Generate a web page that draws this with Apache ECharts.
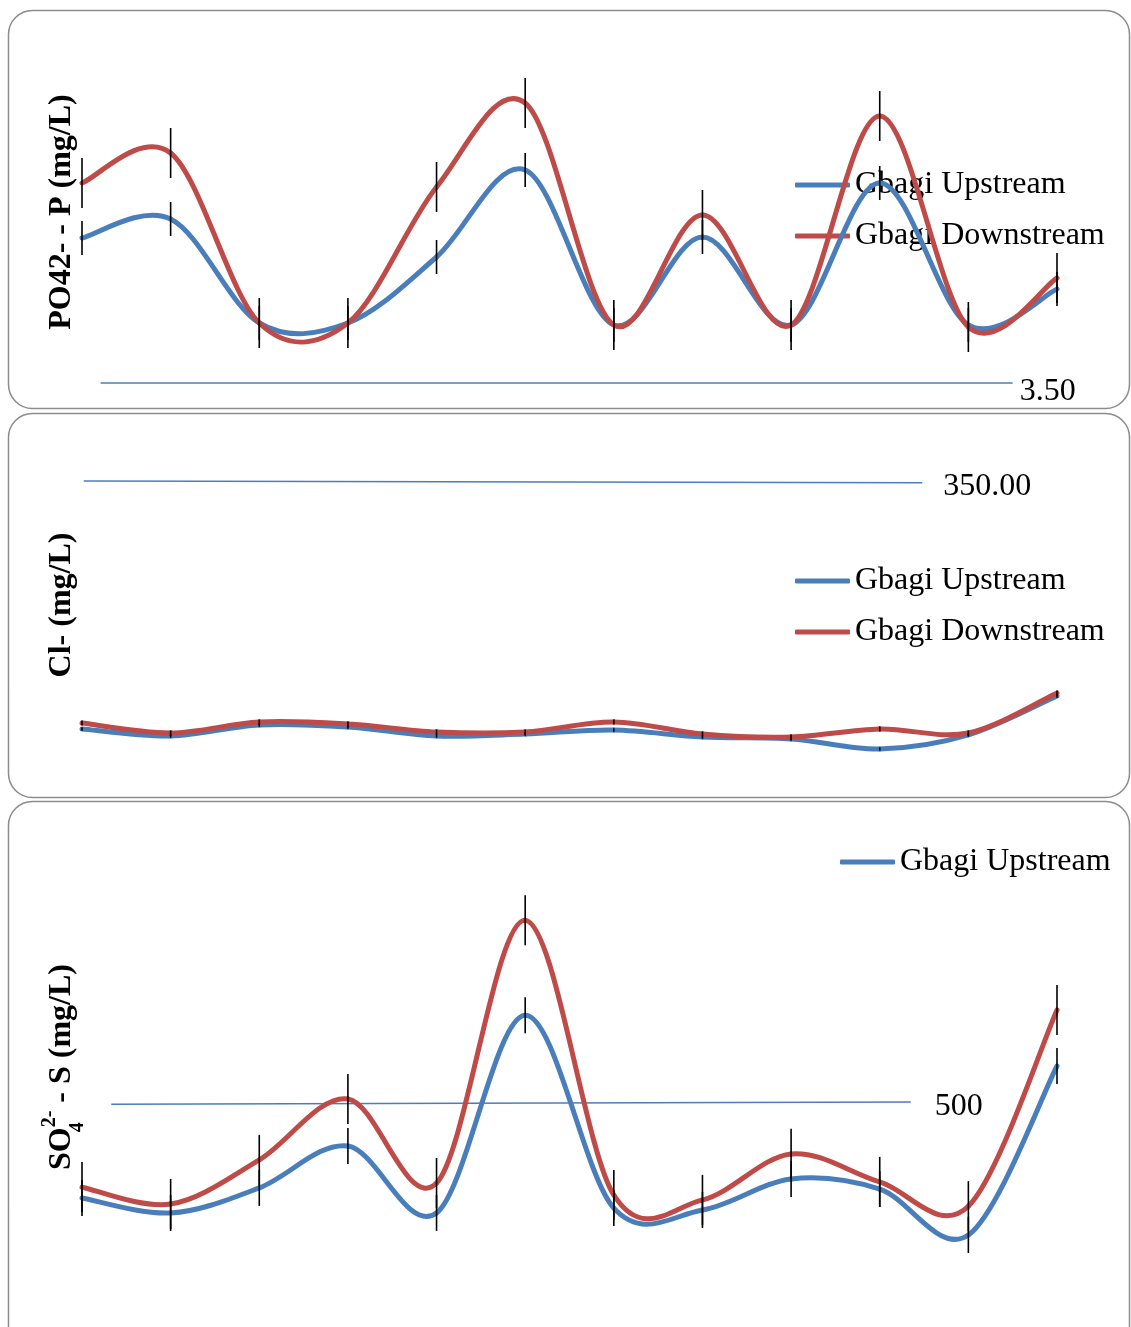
<!DOCTYPE html>
<html><head><meta charset="utf-8">
<script src="https://cdn.jsdelivr.net/npm/echarts@6/dist/echarts.min.js"></script>
<style>html,body{margin:0;padding:0;background:#fff}#c{width:1131px;height:1327px}</style>
</head><body><div id="c"></div>
<script>
// ---- data ----
const stations = ['1','2','3','4','5','6','7','8','9','10','11','12'];
const seriesNames = ['Gbagi Upstream', 'Gbagi Downstream'];

const po4Up      = [4.95, 5.14, 4.10, 4.10, 4.76, 5.63, 4.08, 4.96, 4.08, 5.50, 4.08, 4.44];
const po4Down    = [5.50, 5.80, 4.10, 4.10, 5.46, 6.30, 4.08, 5.18, 4.08, 6.17, 4.06, 4.55];
const po4UpErr   = [0.17, 0.17, 0.17, 0.17, 0.17, 0.17, 0.17, 0.17, 0.17, 0.17, 0.17, 0.17];
const po4DownErr = [0.25, 0.25, 0.25, 0.25, 0.25, 0.25, 0.25, 0.25, 0.25, 0.25, 0.25, 0.25];
const po4RefX = [0.21, 10.5];
const po4RefY = [3.5, 3.5];
const po4RefLabel = '3.50';

const clUp      = [59.9, 51.7, 64.6, 62.2, 51.7, 54.0, 58.7, 50.5, 48.2, 36.4, 52.9, 98.7];
const clDown    = [66.9, 55.2, 68.1, 65.8, 56.4, 56.4, 68.1, 54.0, 50.5, 59.9, 55.2, 102.2];
const clUpErr   = [2, 2, 2, 2, 2, 2, 2, 2, 2, 2, 2, 2];
const clDownErr = [3, 3, 3, 3, 3, 3, 3, 3, 3, 3, 3, 3];
const clRefX = [0.02, 9.48];
const clRefY = [351, 349];
const clRefLabel = '350.00';

const so4Up      = [246, 206, 273, 385, 206, 735, 219, 214, 297, 270, 147, 599];
const so4Down    = [275, 230, 348, 511, 286, 989, 254, 241, 364, 289, 224, 749];
const so4UpErr   = [48, 48, 48, 48, 48, 48, 48, 48, 48, 48, 48, 48];
const so4DownErr = [67, 67, 67, 67, 67, 67, 67, 67, 67, 67, 67, 67];
const so4RefX = [0.33, 9.35];
const so4RefY = [497, 503];
const so4RefLabel = '500';

const yTitles = ['PO42- - P (mg/L)', 'Cl- (mg/L)', 'SO{sub|4}{sup|2-} - S (mg/L)'];

// ---- styling ----
const BLUE = '#4a7ebb', RED = '#be4b48';
const FONT = 'Liberation Serif, Times New Roman, serif';
const TENSION = 1 / 6;

const grids = [
  {left: 82, right: 74, top: 33, height: 370},
  {left: 82, right: 74, top: 430, height: 350},
  {left: 82, right: 74, top: 820, height: 470}
];
const yRanges = [[3.3, 7.0], [0, 411], [0, 1257]];
const titlePads = [[0, 0, 0, 12], [0, 0, 0, 0], [0, 24, 0, 0]];

// smooth line through the data points (Catmull-Rom style, as in the original spreadsheet chart)
function curveSeries(gi, name, vals, color) {
  const n = vals.length;
  return {
    type: 'custom', name: name, xAxisIndex: gi, yAxisIndex: gi, silent: true, z: 3,
    itemStyle: {color: color},
    data: vals.map((v, i) => [i, v]),
    encode: {x: 0, y: 1},
    renderItem: function (params, api) {
      const i = params.dataIndex;
      if (i >= n - 1) return null;
      const P = k => { const j = Math.min(Math.max(k, 0), n - 1); return api.coord([j, vals[j]]); };
      const p0 = P(i - 1), p1 = P(i), p2 = P(i + 1), p3 = P(i + 2);
      return {
        type: 'bezierCurve',
        shape: {
          x1: p1[0], y1: p1[1], x2: p2[0], y2: p2[1],
          cpx1: p1[0] + (p2[0] - p0[0]) * TENSION, cpy1: p1[1] + (p2[1] - p0[1]) * TENSION,
          cpx2: p2[0] - (p3[0] - p1[0]) * TENSION, cpy2: p2[1] - (p3[1] - p1[1]) * TENSION
        },
        style: {stroke: color, lineWidth: 5, fill: null, lineCap: 'round'}
      };
    }
  };
}
function errSeries(gi, vals, errs) {
  return {
    type: 'custom', xAxisIndex: gi, yAxisIndex: gi, silent: true, z: 6,
    data: vals.map((v, i) => [i, v - errs[i], v + errs[i]]),
    encode: {x: 0, y: [1, 2]},
    renderItem: function (params, api) {
      const p0 = api.coord([api.value(0), api.value(1)]);
      const p1 = api.coord([api.value(0), api.value(2)]);
      return {type: 'line', shape: {x1: p0[0], y1: p0[1], x2: p1[0], y2: p1[1]},
        style: {stroke: '#000', lineWidth: 1.6}};
    }
  };
}
function refSeries(gi, xs, ys, text, dist, dy) {
  return {
    type: 'line', xAxisIndex: gi, yAxisIndex: gi, silent: true, z: 2,
    showSymbol: false, symbol: 'none',
    lineStyle: {color: BLUE, width: 1.5},
    data: xs.map((x, i) => [x, ys[i]]),
    endLabel: {show: true, formatter: () => text, distance: dist, offset: [0, dy],
      fontFamily: FONT, fontSize: 32, color: '#000'}
  };
}

const xAxes = grids.map((g, i) => ({gridIndex: i, type: 'value', min: 0, max: 11, show: false}));
const yAxes = grids.map((g, i) => ({
  gridIndex: i, type: 'value', min: yRanges[i][0], max: yRanges[i][1],
  axisLine: {show: false}, axisTick: {show: false}, axisLabel: {show: false}, splitLine: {show: false},
  name: yTitles[i], nameLocation: 'middle', nameRotate: 90, nameGap: 4,
  nameTextStyle: {fontFamily: FONT, fontSize: 32, fontWeight: 'bold', color: '#000', padding: titlePads[i],
    rich: {
      sub: {fontFamily: FONT, fontSize: 20, fontWeight: 'bold', verticalAlign: 'bottom', padding: [0, 0, -10, 0], width: 0.01},
      sup: {fontFamily: FONT, fontSize: 20, fontWeight: 'bold', verticalAlign: 'top', padding: [-6, 0, 0, 0]}
    }}
}));

const legendBase = {
  orient: 'vertical', icon: 'roundRect', itemWidth: 55, itemHeight: 5, itemGap: 15, z: 1,
  padding: 0, selectedMode: false,
  textStyle: {fontFamily: FONT, fontSize: 32, color: '#000', lineHeight: 36}
};

const panels = [
  {x: 8.5, y: 10.5, w: 1121, h: 398},
  {x: 8.5, y: 413.5, w: 1121, h: 384},
  {x: 8.5, y: 801.5, w: 1121, h: 560}
];

const chart = echarts.init(document.getElementById('c'), null, {renderer: 'canvas'});
chart.setOption({
  animation: false,
  backgroundColor: '#fff',
  graphic: panels.map(p => ({type: 'rect', z: -10, silent: true,
    shape: {x: p.x, y: p.y, width: p.w, height: p.h, r: 24},
    style: {fill: 'none', stroke: '#8c8c8c', lineWidth: 1.5}})),
  grid: grids,
  xAxis: xAxes,
  yAxis: yAxes,
  legend: [
    Object.assign({}, legendBase, {left: 795, top: 167, data: seriesNames}),
    Object.assign({}, legendBase, {left: 795, top: 563, data: seriesNames}),
    Object.assign({}, legendBase, {left: 840, top: 844, data: [seriesNames[0]]})
  ],
  series: [
    refSeries(0, po4RefX, po4RefY, po4RefLabel, 7, 9),
    curveSeries(0, seriesNames[0], po4Up, BLUE),
    curveSeries(0, seriesNames[1], po4Down, RED),
    errSeries(0, po4Up, po4UpErr),
    errSeries(0, po4Down, po4DownErr),

    refSeries(1, clRefX, clRefY, clRefLabel, 21, 4),
    curveSeries(1, seriesNames[0], clUp, BLUE),
    curveSeries(1, seriesNames[1], clDown, RED),
    errSeries(1, clUp, clUpErr),
    errSeries(1, clDown, clDownErr),

    refSeries(2, so4RefX, so4RefY, so4RefLabel, 24, 5),
    curveSeries(2, seriesNames[0], so4Up, BLUE),
    curveSeries(2, seriesNames[1], so4Down, RED),
    errSeries(2, so4Up, so4UpErr),
    errSeries(2, so4Down, so4DownErr)
  ]
});
</script></body></html>
